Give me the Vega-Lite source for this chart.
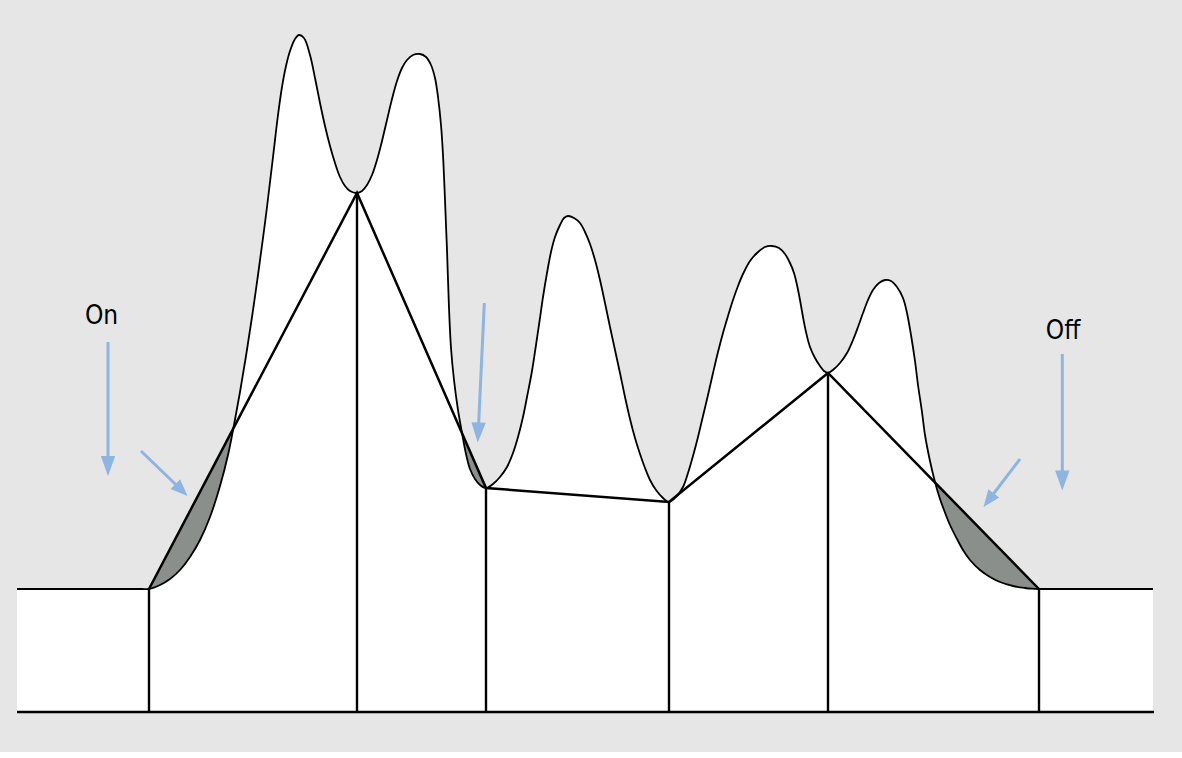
{
  "$schema": "https://vega.github.io/schema/vega-lite/v6.json",
  "width": 1182,
  "height": 752,
  "autosize": {"type": "none"},
  "padding": 0,
  "background": "#ffffff",
  "config": {"view": {"fill": "#e6e6e6", "stroke": null}},
  "datasets": {
    "curve": [
      {"t":17,"h":123},{"t":40,"h":123},{"t":65,"h":123},{"t":90,"h":123},{"t":110,"h":123},{"t":125,"h":123},{"t":135,"h":123},{"t":142,"h":123},{"t":149,"h":123},{"t":160,"h":127},{"t":170,"h":133},{"t":180,"h":142},{"t":190,"h":155},{"t":200,"h":172},{"t":210,"h":195},{"t":220,"h":226},{"t":228,"h":257},{"t":234,"h":287},{"t":240,"h":320},{"t":246,"h":356},{"t":252,"h":395},{"t":258,"h":437},{"t":263,"h":474},{"t":267,"h":505},{"t":273,"h":555},{"t":278,"h":597},{"t":282,"h":625},{"t":286,"h":646},{"t":290,"h":661},{"t":295,"h":673},{"t":299,"h":677},{"t":304,"h":674},{"t":310,"h":657},{"t":315,"h":634},{"t":320,"h":609},{"t":325,"h":586},{"t":330,"h":566},{"t":335,"h":549},{"t":340,"h":535},{"t":345,"h":526},{"t":350,"h":521},{"t":357,"h":519},{"t":362,"h":521},{"t":367,"h":527},{"t":372,"h":537},{"t":377,"h":552},{"t":382,"h":571},{"t":387,"h":592},{"t":392,"h":613},{"t":397,"h":631},{"t":402,"h":644},{"t":407,"h":652},{"t":413,"h":657},{"t":420,"h":658},{"t":426,"h":655},{"t":431,"h":647},{"t":435,"h":634},{"t":438,"h":615},{"t":441,"h":587},{"t":443,"h":557},{"t":445,"h":512},{"t":447,"h":462},{"t":449,"h":404},{"t":451,"h":364},{"t":454,"h":332},{"t":458,"h":302},{"t":462,"h":279},{"t":466,"h":258},{"t":470,"h":243},{"t":475,"h":233},{"t":480,"h":227},{"t":486,"h":224},
      {"t":493,"h":228},{"t":500,"h":235},{"t":507,"h":245},{"t":513,"h":259},{"t":518,"h":275},{"t":523,"h":295},{"t":527,"h":315},{"t":532,"h":341},{"t":536,"h":367},{"t":540,"h":394},{"t":543,"h":415},{"t":547,"h":439},{"t":551,"h":460},{"t":555,"h":475},{"t":560,"h":487},{"t":564,"h":494},{"t":568,"h":496},{"t":574,"h":494},{"t":580,"h":489},{"t":585,"h":480},{"t":590,"h":468},{"t":595,"h":452},{"t":600,"h":432},{"t":605,"h":409},{"t":610,"h":385},{"t":615,"h":362},{"t":620,"h":339},{"t":625,"h":315},{"t":630,"h":293},{"t":635,"h":274},{"t":640,"h":258},{"t":645,"h":244},{"t":650,"h":232},{"t":656,"h":222},{"t":663,"h":214},{"t":669,"h":210},
      {"t":676,"h":215},{"t":683,"h":225},{"t":688,"h":239},{"t":693,"h":256},{"t":698,"h":275},{"t":703,"h":296},{"t":708,"h":317},{"t":713,"h":339},{"t":718,"h":360},{"t":723,"h":379},{"t":728,"h":396},{"t":733,"h":412},{"t":738,"h":426},{"t":743,"h":438},{"t":750,"h":451},{"t":757,"h":459},{"t":765,"h":465},{"t":772,"h":466},{"t":779,"h":464},{"t":785,"h":458},{"t":790,"h":449},{"t":794,"h":439},{"t":797,"h":427},{"t":800,"h":412},{"t":803,"h":395},{"t":806,"h":380},{"t":810,"h":365},{"t":815,"h":354},{"t":820,"h":346},{"t":824,"h":341},{"t":828,"h":339},{"t":834,"h":343},{"t":840,"h":349},{"t":847,"h":359},{"t":853,"h":372},{"t":858,"h":385},{"t":863,"h":399},{"t":868,"h":412},{"t":873,"h":422},{"t":879,"h":429},{"t":885,"h":432},{"t":891,"h":431},{"t":897,"h":425},{"t":903,"h":414},{"t":907,"h":399},{"t":911,"h":377},{"t":915,"h":351},{"t":918,"h":327},{"t":922,"h":300},{"t":925,"h":277},{"t":930,"h":251},{"t":935,"h":230},{"t":940,"h":213},{"t":944,"h":202},{"t":950,"h":187},{"t":957,"h":173},{"t":963,"h":162},{"t":970,"h":152},{"t":980,"h":142},{"t":990,"h":135},{"t":1000,"h":130},{"t":1013,"h":126},{"t":1025,"h":124},{"t":1032,"h":123.3},{"t":1039,"h":123},{"t":1046,"h":123},{"t":1055,"h":123},{"t":1068,"h":123},{"t":1085,"h":123},{"t":1105,"h":123},{"t":1130,"h":123},{"t":1153,"h":123}
    ],
    "chords": [
      {"t":149,"h":123},{"t":357,"h":519},{"t":486,"h":224},{"t":669,"h":210},{"t":828,"h":339},{"t":1039,"h":123}
    ],
    "base": [{"t":17,"t2":1154,"h":0}],
    "arrowsStraight": [
      {"t":108,"h":370,"tn":108,"hn":250,"tt":108,"ht":236,"heading":0},
      {"t":484.3,"h":409,"tn":478.3,"hn":281,"tt":477.7,"ht":269.5,"heading":2.7},
      {"t":1062.3,"h":358,"tn":1062.3,"hn":236,"tt":1062.3,"ht":221.5,"heading":0}
    ],
    "arrowsDiag": [
      {"t":141,"h":261,"tn":180.4,"hn":223,"tt":187.5,"ht":216,"heading":314.4},
      {"t":1020,"h":253,"tn":989.5,"hn":213,"tt":983.5,"ht":205,"heading":37.2}
    ],
    "labels": [
      {"t":101.5,"h":388,"label":"On"},
      {"t":1063,"h":373,"label":"Off"}
    ]
  },
  "encoding": {
    "x": {"field": "t", "type": "quantitative", "scale": {"domain": [0, 1182], "nice": false, "zero": false}, "axis": null},
    "y": {"field": "h", "type": "quantitative", "scale": {"domain": [-40, 712], "nice": false, "zero": false}, "axis": null}
  },
  "layer": [
    {"data": {"name": "chords"}, "mark": {"type": "area", "color": "#8b8f8c", "interpolate": "linear", "opacity": 1}, "encoding": {"y2": {"datum": 0}}},
    {"data": {"name": "curve"}, "mark": {"type": "area", "color": "#ffffff", "interpolate": "catmull-rom", "opacity": 1}, "encoding": {"y2": {"datum": 0}}},
    {"data": {"name": "curve"}, "mark": {"type": "line", "color": "#000000", "strokeWidth": 1.8, "interpolate": "catmull-rom"}, "encoding": {}},
    {"data": {"name": "chords"}, "mark": {"type": "line", "color": "#000000", "strokeWidth": 2.5, "interpolate": "linear"}, "encoding": {}},
    {"data": {"name": "chords"}, "mark": {"type": "rule", "color": "#000000", "strokeWidth": 2.4}, "encoding": {"y2": {"datum": 0}}},
    {"data": {"name": "base"}, "mark": {"type": "rule", "color": "#000000", "strokeWidth": 2.4}, "encoding": {"x2": {"field": "t2"}}},
    {"data": {"name": "arrowsStraight"}, "mark": {"type": "rule", "color": "#8db4e2", "strokeWidth": 3}, "encoding": {"x2": {"field": "tn"}, "y2": {"field": "hn"}}},
    {"data": {"name": "arrowsDiag"}, "mark": {"type": "rule", "color": "#8db4e2", "strokeWidth": 3}, "encoding": {"x2": {"field": "tn"}, "y2": {"field": "hn"}}},
    {"data": {"name": "arrowsStraight"}, "mark": {"type": "point", "shape": "M0,0L-0.36,-1L0.36,-1Z", "size": 1600, "filled": true, "opacity": 1, "color": "#8db4e2", "strokeWidth": 0},
     "encoding": {"x": {"field": "tt", "type": "quantitative"}, "y": {"field": "ht", "type": "quantitative"}, "angle": {"field": "heading", "type": "quantitative", "scale": null}}},
    {"data": {"name": "arrowsDiag"}, "mark": {"type": "point", "shape": "M0,0L-0.4,-1L0.4,-1Z", "size": 1156, "filled": true, "opacity": 1, "color": "#8db4e2", "strokeWidth": 0},
     "encoding": {"x": {"field": "tt", "type": "quantitative"}, "y": {"field": "ht", "type": "quantitative"}, "angle": {"field": "heading", "type": "quantitative", "scale": null}}},
    {"data": {"name": "labels"}, "mark": {"type": "text", "font": "'Liberation Sans Narrow', 'DejaVu Sans Condensed', sans-serif", "fontSize": 26, "align": "center", "baseline": "alphabetic", "color": "#000000"},
     "encoding": {"text": {"field": "label"}}}
  ]
}
